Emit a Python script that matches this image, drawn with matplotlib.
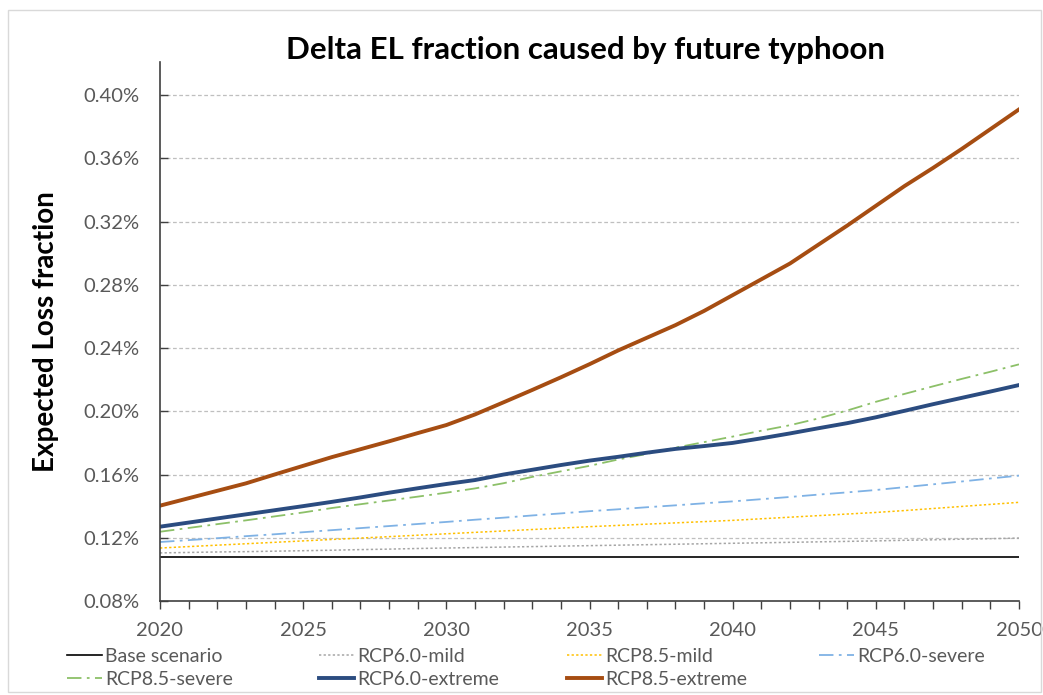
import matplotlib.pyplot as plt
import matplotlib.ticker as mtick
from matplotlib.patches import Rectangle

plt.rcParams['font.family'] = ['Lato', 'DejaVu Sans']

# data (values in %)
years = list(range(2020, 2051))
base = [0.1078] * len(years)
rcp60_mild = [0.1104, 0.1107, 0.1110, 0.1112, 0.1115, 0.1118, 0.1121, 0.1125, 0.1128, 0.1132, 0.1135,
              0.1138, 0.1141, 0.1144, 0.1147, 0.1150, 0.1153, 0.1156, 0.1159, 0.1162, 0.1165,
              0.1168, 0.1171, 0.1174, 0.1177, 0.1180, 0.1184, 0.1187, 0.1191, 0.1194, 0.1198]
rcp85_mild = [0.1135, 0.1144, 0.1153, 0.1162, 0.1171, 0.1180, 0.1189, 0.1198, 0.1207, 0.1216, 0.1225,
              0.1234, 0.1243, 0.1252, 0.1261, 0.1270, 0.1278, 0.1286, 0.1294, 0.1302, 0.1310,
              0.1320, 0.1330, 0.1340, 0.1350, 0.1360, 0.1372, 0.1385, 0.1398, 0.1411, 0.1424]
rcp60_severe = [0.1173, 0.1185, 0.1197, 0.1210, 0.1222, 0.1235, 0.1248, 0.1261, 0.1274, 0.1287, 0.1300,
                0.1314, 0.1327, 0.1341, 0.1354, 0.1368, 0.1380, 0.1393, 0.1405, 0.1418, 0.1430,
                0.1444, 0.1458, 0.1473, 0.1487, 0.1502, 0.1520, 0.1538, 0.1556, 0.1575, 0.1593]
rcp85_severe = [0.1238, 0.1262, 0.1286, 0.1310, 0.1335, 0.1360, 0.1388, 0.1412, 0.1436, 0.1460, 0.1485,
                0.1512, 0.1545, 0.1585, 0.1620, 0.1655, 0.1695, 0.1730, 0.1770, 0.1805, 0.1840,
                0.1877, 0.1912, 0.1955, 0.2005, 0.2060, 0.2110, 0.2158, 0.2205, 0.2250, 0.2297]
rcp60_extreme = [0.1270, 0.1296, 0.1322, 0.1348, 0.1374, 0.1400, 0.1427, 0.1455, 0.1485, 0.1513, 0.1540,
                 0.1565, 0.1600, 0.1630, 0.1660, 0.1688, 0.1712, 0.1738, 0.1762, 0.1780, 0.1800,
                 0.1829, 0.1860, 0.1893, 0.1925, 0.1962, 0.2003, 0.2045, 0.2085, 0.2125, 0.2166]
rcp85_extreme = [0.1403, 0.1450, 0.1497, 0.1544, 0.1600, 0.1655, 0.1710, 0.1760, 0.1810, 0.1862, 0.1913,
                 0.1980, 0.2057, 0.2135, 0.2215, 0.2298, 0.2385, 0.2465, 0.2545, 0.2635, 0.2735,
                 0.2835, 0.2935, 0.3055, 0.3175, 0.3300, 0.3425, 0.3540, 0.3660, 0.3785, 0.3910]

fig = plt.figure(figsize=(10.43, 6.95), dpi=100)
ax = fig.add_axes([0.1534, 0.1353, 0.8236, 0.7755])

h_base, = ax.plot(years, base, color='black', lw=1.2, label='Base scenario')
h60m, = ax.plot(years, rcp60_mild, color='#A5A5A5', lw=1.1, ls=(0, (1.5, 1.5)), label='RCP6.0-mild')
h85m, = ax.plot(years, rcp85_mild, color='#FFC000', lw=1.1, ls=(0, (1.5, 1.5)), label='RCP8.5-mild')
h60s, = ax.plot(years, rcp60_severe, color='#7FB2E5', lw=1.3, ls=(0, (8, 3, 1.5, 3)), label='RCP6.0-severe')
h85s, = ax.plot(years, rcp85_severe, color='#8CC068', lw=1.3, ls=(0, (8, 3, 1.5, 3)), label='RCP8.5-severe')
h60e, = ax.plot(years, rcp60_extreme, color='#2B4C80', lw=2.8, label='RCP6.0-extreme')
h85e, = ax.plot(years, rcp85_extreme, color='#A64D12', lw=2.8, label='RCP8.5-extreme')

ax.set_xlim(2020, 2050)
ax.set_ylim(0.08, 0.421)
ax.set_yticks([0.08, 0.12, 0.16, 0.20, 0.24, 0.28, 0.32, 0.36, 0.40])
ax.yaxis.set_major_formatter(mtick.FuncFormatter(lambda v, p: f'{v:.2f}%'))
ax.set_xticks(years)
ax.set_xticklabels([str(y) if y % 5 == 0 else '' for y in years])

for v in [0.12, 0.16, 0.20, 0.24, 0.28, 0.32, 0.36, 0.40]:
    ax.axhline(v, color='#BFBFBF', lw=0.9, ls=(0, (3, 2)), zorder=0)

ax.tick_params(axis='both', width=1, color='#404040', labelcolor='#595959', labelsize=14.5)
ax.tick_params(axis='x', direction='out', length=6, pad=9)
ax.tick_params(axis='y', direction='in', length=6, pad=15)
for s in ['top', 'right']:
    ax.spines[s].set_visible(False)
for s in ['left', 'bottom']:
    ax.spines[s].set_color('#404040')
    ax.spines[s].set_linewidth(1.2)

ax.set_ylabel('Expected Loss fraction', fontsize=20, fontweight='bold')
ax.yaxis.set_label_coords(-(160 - 59) / (0.8236 * 1043), 0.5)
fig.text(586 / 1043, 1 - 50 / 695, 'Delta EL fraction caused by future typhoon',
         fontsize=22.5, fontweight='bold', ha='center', va='center')

# legend: four columns placed like the original
columns = [([h_base, h85s], 67), ([h60m, h60e], 319), ([h85m, h85e], 567), ([h60s], 819)]
for hs, xpix in columns:
    fig.legend(handles=hs, loc='upper left', bbox_to_anchor=(xpix / 1043, 1 - 648 / 695),
               frameon=False, fontsize=14, handlelength=1.8, handletextpad=0.15,
               labelspacing=0.3, borderpad=0, borderaxespad=0, labelcolor='#595959')

fig.add_artist(Rectangle((0.008, 0.004), 0.99, 0.982, transform=fig.transFigure,
                         fill=False, edgecolor='#D9D9D9', lw=1))

fig.savefig('out.png', dpi=100)
